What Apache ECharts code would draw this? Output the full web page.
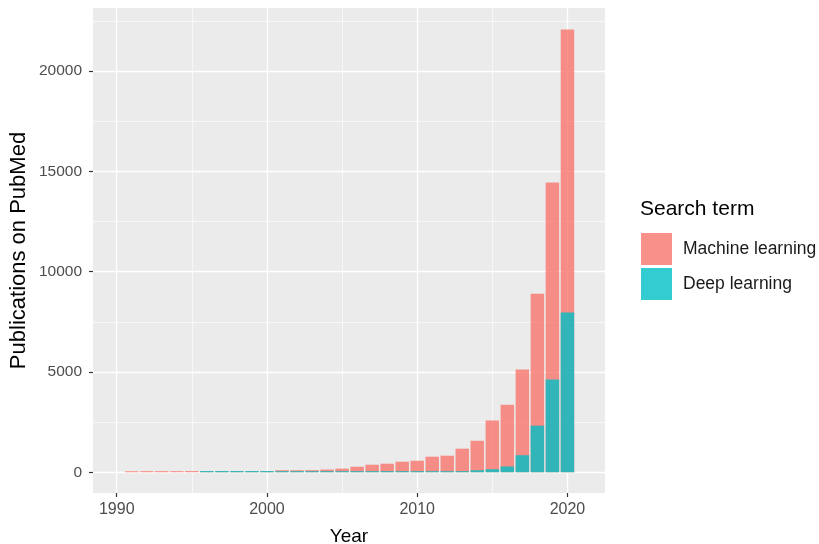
<!DOCTYPE html>
<html>
<head>
<meta charset="utf-8">
<script src="https://cdn.jsdelivr.net/npm/echarts@6/dist/echarts.min.js"></script>
<style>
  html, body { margin: 0; padding: 0; background: #fff; }
  #main { width: 819px; height: 544px; }
</style>
</head>
<body>
<div id="main"></div>
<script>
// years 1991..2020
const years = [1991, 1992, 1993, 1994, 1995, 1996, 1997, 1998, 1999, 2000,
  2001, 2002, 2003, 2004, 2005, 2006, 2007, 2008, 2009, 2010,
  2011, 2012, 2013, 2014, 2015, 2016, 2017, 2018, 2019, 2020];
const machineLearning = [50, 55, 55, 55, 60, 55, 55, 55, 55, 55,
  100, 100, 105, 135, 180, 275, 375, 425, 525, 575,
  775, 825, 1175, 1570, 2580, 3370, 5120, 8900, 14450, 22080];
const deepLearning = [0, 0, 0, 0, 0, 60, 60, 60, 60, 60,
  55, 55, 55, 55, 55, 55, 55, 55, 55, 55,
  55, 55, 55, 100, 150, 290, 850, 2320, 4620, 7960];
const yTicks = [0, 5000, 10000, 15000, 20000];
const xTicks = [1990, 2000, 2010, 2020];

const chart = echarts.init(document.getElementById('main'));

const pairs = (vals) => years.map((y, i) => [y, vals[i]]);

const option = {
  animation: false,
  backgroundColor: '#fff',
  textStyle: { fontFamily: 'Liberation Sans, Arial, sans-serif' },
  title: {
    text: 'Search term',
    left: 640,
    top: 199,
    padding: 0,
    textStyle: { fontSize: 21, fontWeight: 'normal', color: '#000' }
  },
  legend: {
    orient: 'vertical',
    left: 641,
    top: 233,
    padding: 0,
    itemWidth: 31,
    itemHeight: 32,
    itemGap: 3,
    icon: 'rect',
    textStyle: { fontSize: 17.5, color: '#1a1a1a', padding: [0, 0, 0, 6] },
    data: ['Machine learning', 'Deep learning']
  },
  grid: {
    left: 93, right: 214, top: 8, bottom: 51,
    outerBoundsMode: 'none',
    containLabel: false,
    show: true, backgroundColor: '#EBEBEB', borderWidth: 0
  },
  xAxis: {
    type: 'value',
    min: 1988.42,
    max: 2022.5,
    splitNumber: 4,
    name: 'Year',
    nameLocation: 'middle',
    nameGap: 34,
    nameMoveOverlap: false,
    nameTextStyle: { fontSize: 19, color: '#000' },
    axisLine: { show: false, onZero: false },
    axisTick: { show: true, length: 4, lineStyle: { color: '#333', width: 1.2 }, customValues: xTicks },
    axisLabel: { fontSize: 16, color: '#4D4D4D', margin: 9, customValues: xTicks, formatter: (v) => String(v) },
    splitLine: { show: true, lineStyle: { color: '#fff', width: 1.3 } },
    minorTick: { show: false, splitNumber: 2 },
    minorSplitLine: { show: true, lineStyle: { color: '#fff', width: 0.6 } }
  },
  yAxis: {
    type: 'value',
    min: -1035,
    max: 23150,
    splitNumber: 5,
    name: 'Publications on PubMed',
    nameLocation: 'middle',
    nameGap: 63,
    nameMoveOverlap: false,
    nameTextStyle: { fontSize: 22, color: '#000' },
    axisLine: { show: false, onZero: false },
    axisTick: { show: true, length: 4, lineStyle: { color: '#333', width: 1.2 }, customValues: yTicks },
    axisLabel: { fontSize: 15.5, color: '#4D4D4D', margin: 11, customValues: yTicks, formatter: (v) => String(v) },
    splitLine: { show: true, lineStyle: { color: '#fff', width: 1.3 } },
    minorTick: { show: false, splitNumber: 2 },
    minorSplitLine: { show: true, lineStyle: { color: '#fff', width: 0.6 } }
  },
  series: [
    {
      name: 'Machine learning',
      type: 'bar',
      barWidth: 13.5,
      barGap: '-100%',
      itemStyle: { color: '#F8766D', opacity: 0.8 },
      data: pairs(machineLearning)
    },
    {
      name: 'Deep learning',
      type: 'bar',
      barWidth: 13.5,
      barGap: '-100%',
      itemStyle: { color: '#00BFC4', opacity: 0.8 },
      data: pairs(deepLearning)
    }
  ]
};

chart.setOption(option);
</script>
</body>
</html>
